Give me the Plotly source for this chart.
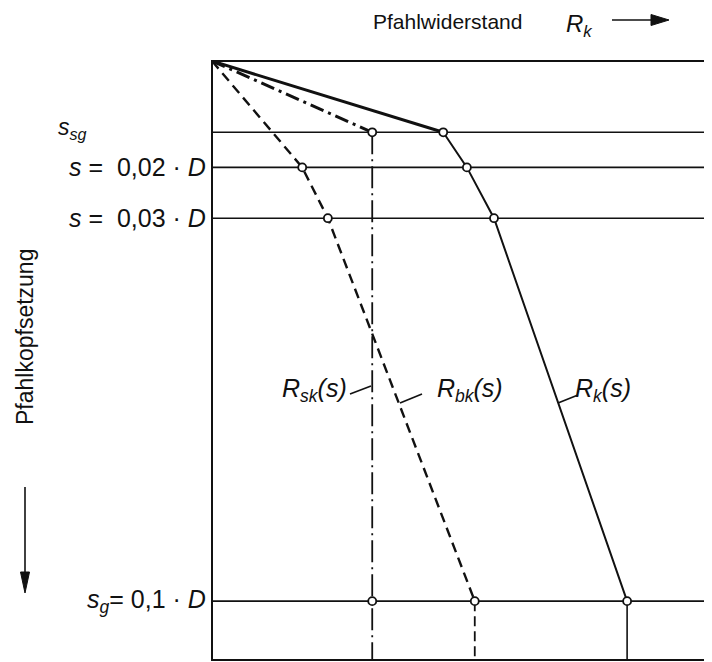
import plotly.graph_objects as go

# ---------------- data ----------------
# settlement levels s/D as drawn: s_sg, 0.02D, 0.03D, s_g = 0.1D
S_LEVELS = [0.0132, 0.0197, 0.0291, 0.1]
S_BOTTOM = 0.1109              # lower edge of the frame
# pile resistance (relative units, 0..100 = frame width)
RK_S = [0.0, 0.0132, 0.0197, 0.0291, 0.1]
RK = [0.0, 46.9, 51.7, 57.2, 84.2]
RSK_S = [0.0, 0.0132, 0.1]
RSK = [0.0, 32.5, 32.5]
RBK_S = [0.0, 0.0197, 0.0291, 0.1]
RBK = [0.0, 18.3, 23.5, 53.3]
LEVEL_LABELS = ["<i>s</i><sub><i>sg</i></sub>",
                "<i>s</i> =&nbsp;&nbsp;0,02 · <i>D</i>",
                "<i>s</i> =&nbsp;&nbsp;0,03 · <i>D</i>",
                "<i>s</i><sub><i>g</i></sub>=&nbsp;0,1 · <i>D</i>"]
CURVE_LABELS = ["<i>R</i><sub><i>sk</i></sub><i>(s)</i>",
                "<i>R</i><sub><i>bk</i></sub><i>(s)</i>",
                "<i>R</i><sub><i>k</i></sub><i>(s)</i>"]

W, H = 712, 662
OFF = 8                      # page offset of the figure in the browser
# frame position in screen pixels
FX0, FX1, FY0, FY1 = 212, 705, 61, 660
L, T = FX0 - OFF, FY0 - OFF
R, B = W - (FX1 - OFF), H - (FY1 - OFF)
PW, PH = FX1 - FX0, FY1 - FY0


def px(x):   # screen pixel -> paper x
    return (x - FX0) / PW


def py(y):   # screen pixel -> paper y
    return (FY1 - y) / PH


def dx(x):   # screen pixel -> data x
    return (x - FX0) / PW * 100.0


def dy(y):   # screen pixel -> data y
    return (y - FY0) / PH * S_BOTTOM


FONT = "Liberation Sans, Arial, sans-serif"
BLACK = "#111111"

fig = go.Figure()

# R_k(s) solid
fig.add_trace(go.Scatter(x=RK[:2], y=RK_S[:2], mode="lines",
                         line=dict(color=BLACK, width=3)))
fig.add_trace(go.Scatter(x=RK[1:], y=RK_S[1:], mode="lines",
                         line=dict(color=BLACK, width=2)))
fig.add_trace(go.Scatter(x=[RK[-1], RK[-1]], y=[RK_S[-1], S_BOTTOM], mode="lines",
                         line=dict(color=BLACK, width=1.6)))
# R_sk(s) dash-dot
fig.add_trace(go.Scatter(x=RSK[:2], y=RSK_S[:2], mode="lines",
                         line=dict(color=BLACK, width=3, dash="14px,5px,3px,5px")))
fig.add_trace(go.Scatter(x=RSK[1:] + [RSK[-1]], y=RSK_S[1:] + [S_BOTTOM], mode="lines",
                         line=dict(color=BLACK, width=1.8, dash="22px,5px,2px,5px")))
# R_bk(s) dashed
fig.add_trace(go.Scatter(x=RBK, y=RBK_S, mode="lines",
                         line=dict(color=BLACK, width=2.4, dash="10px,6px")))
fig.add_trace(go.Scatter(x=[RBK[-1], RBK[-1]], y=[RBK_S[-1], S_BOTTOM], mode="lines",
                         line=dict(color=BLACK, width=1.8, dash="10px,5px")))

# horizontal level lines
for s in S_LEVELS:
    fig.add_shape(type="line", xref="paper", yref="y", x0=0, x1=1, y0=s, y1=s,
                  line=dict(color=BLACK, width=1.6), layer="below")

# open circle markers
mx = RK[1:] + RSK[1:] + RBK[1:]
my = RK_S[1:] + RSK_S[1:] + RBK_S[1:]
fig.add_trace(go.Scatter(x=mx, y=my, mode="markers",
                         marker=dict(symbol="circle", size=8, color="white",
                                     line=dict(color=BLACK, width=1.8))))

# frame
fig.add_shape(type="rect", xref="paper", yref="paper", x0=0, x1=1, y0=0, y1=1,
              line=dict(color=BLACK, width=2))

# level labels
fig.add_annotation(text=LEVEL_LABELS[0], xref="paper", yref="paper",
                   x=px(56), y=py(128), xanchor="left", yanchor="middle",
                   showarrow=False, font=dict(family=FONT, size=23, color=BLACK))
for s, lab in zip(S_LEVELS[1:], LEVEL_LABELS[1:]):
    fig.add_annotation(text=lab, xref="paper", yref="y", x=px(208), y=s,
                       xanchor="right", yanchor="middle", showarrow=False,
                       font=dict(family=FONT, size=25, color=BLACK))

# curve labels + leader lines
for lab, xc in zip(CURVE_LABELS, [314, 470, 603]):
    fig.add_annotation(text=lab, xref="paper", yref="paper", x=px(xc), y=py(390),
                       xanchor="center", yanchor="middle", showarrow=False,
                       font=dict(family=FONT, size=25, color=BLACK))
for (x0, y0, x1, y1) in [(371, 386, 350, 394), (400, 403, 422, 394), (558, 403, 578, 395)]:
    fig.add_shape(type="line", xref="x", yref="y", x0=dx(x0), y0=dy(y0), x1=dx(x1), y1=dy(y1),
                  line=dict(color=BLACK, width=1.6))

# axis titles with arrows
fig.add_annotation(text="Pfahlwiderstand", xref="paper", yref="paper", x=px(447), y=py(21),
                   xanchor="center", yanchor="middle", showarrow=False,
                   font=dict(family=FONT, size=21, color=BLACK))
fig.add_annotation(text="<i>R</i><sub><i>k</i></sub>", xref="paper", yref="paper",
                   x=px(579), y=py(25), xanchor="center", yanchor="middle", showarrow=False,
                   font=dict(family=FONT, size=24, color=BLACK))
fig.add_shape(type="line", xref="paper", yref="paper", x0=px(612), x1=px(655),
              y0=py(20), y1=py(20), line=dict(color=BLACK, width=1.6))
fig.add_shape(type="path", xref="paper", yref="paper",
              path=f"M{px(651)},{py(14.5)} L{px(669)},{py(20)} L{px(651)},{py(25.5)} Z",
              fillcolor=BLACK, line=dict(color=BLACK, width=1))

fig.add_annotation(text="Pfahlkopfsetzung", xref="paper", yref="paper", x=px(25), y=py(337),
                   xanchor="center", yanchor="middle", textangle=-90, showarrow=False,
                   font=dict(family=FONT, size=23, color=BLACK))
fig.add_shape(type="line", xref="paper", yref="paper", x0=px(25), x1=px(25),
              y0=py(487), y1=py(578), line=dict(color=BLACK, width=1.6))
fig.add_shape(type="path", xref="paper", yref="paper",
              path=f"M{px(20.5)},{py(572)} L{px(25)},{py(593)} L{px(29.5)},{py(572)} Z",
              fillcolor=BLACK, line=dict(color=BLACK, width=1))

fig.update_xaxes(range=[0, 100], visible=False, fixedrange=True)
fig.update_yaxes(range=[S_BOTTOM, 0], visible=False, fixedrange=True)
fig.update_layout(width=W, height=H, margin=dict(l=L, r=R, t=T, b=B),
                  showlegend=False, plot_bgcolor="white", paper_bgcolor="white")

fig.write_html("out.html")
